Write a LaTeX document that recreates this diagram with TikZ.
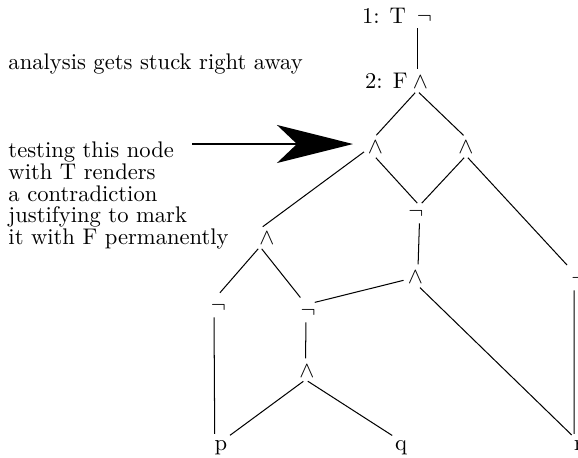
\documentclass[tikz,border=0pt]{standalone}
\usetikzlibrary{arrows.meta}
\newcommand\gly[2]{\makebox[0pt]{\hspace{#1}$#2$}}
\begin{document}
\begin{tikzpicture}[x=0.4425pt,y=-0.4425pt,
  tn/.style={anchor=base, inner xsep=0pt, inner ysep=1.2pt, outer sep=0pt},
  leaf/.style={anchor=base, inner xsep=0pt, inner ysep=1.2pt, outer sep=0pt},
  link/.style={line width=0.45pt, shorten <=1.2pt, shorten >=1.5pt},
  txt/.style={inner sep=0pt, outer sep=0pt},
  bigarrow/.style={line width=1.2pt, -{Stealth[length=33.6pt,width=16.8pt,inset=8.8pt]}}]
\useasboundingbox (0,0) rectangle (578,457);
% tree nodes
\node[tn] (n1) at (417,23) {\gly{6.6pt}{\neg}};
\node[tn] (n2) at (417,88) {\gly{3.1pt}{\wedge}};
\node[tn] (n3) at (374,153) {\gly{1.3pt}{\wedge}};
\node[tn] (n4) at (466,153) {\gly{0pt}{\wedge}};
\node[tn] (n5) at (419.5,218) {\gly{-3.1pt}{\neg}};
\node[tn] (n6) at (260,244) {\gly{6.2pt}{\wedge}};
\node[tn] (n7) at (574,285) {\gly{4.4pt}{\neg}};
\node[tn] (n8) at (418,283) {\gly{-2.2pt}{\wedge}};
\node[tn] (n9) at (214,312) {\gly{4pt}{\neg}};
\node[tn] (n10) at (306,317) {\gly{1.8pt}{\neg}};
\node[tn] (n11) at (305.5,377) {\gly{1.3pt}{\wedge}};
\node[leaf] (p) at (221,450) {p};
\node[leaf] (q) at (401,450) {q};
\node[leaf] (r) at (578.5,450) {r};
% labels
\node[txt, anchor=base east] (l1) at (406,23) {1: T};
\node[txt, anchor=base east] (l2) at (407.5,88) {2: F};
% texts
\node[txt, anchor=base west] (t1) at (8.5,69) {analysis gets stuck right away};
\node[txt, anchor=north west, align=left, font=\fontsize{10pt}{9.55pt}\selectfont] (t2) at (8.5,142.3)
  {testing this node\\with T renders\\a contradiction\\justifying to mark\\it with F permanently};
% edges
\draw[link] (n1.south) -- (n2.north);
\draw[link] (n2.south) -- (n3.north);
\draw[link] (n2.south) -- (n4.north);
\draw[link] (n3.south) -- (n5.north);
\draw[link] (n4.south) -- (n5.north);
\draw[link, shorten <=5.5pt] ([yshift=-3pt]n3.north) -- (n6.north);
\draw[link, shorten >=4.5pt] (n4.south) -- (n7.north);
\draw[link] (n5.south) -- (n8.north);
\draw[link, shorten >=4pt] (n6.south) -- (n9.north);
\draw[link, shorten >=4pt] (n6.south) -- (n10.north);
\draw[link, shorten <=6.6pt, shorten >=4pt] (n8.center) -- (n10.north);
\draw[link] (n8.south) -- (r.north west);
\draw[link] (n7.south) -- (r.north west);
\draw[link] (n9.south) -- (p.north west);
\draw[link] (n10.south) -- (n11.north);
\draw[link] (n11.south) -- (p.north east);
\draw[link] (n11.south) -- (q.north west);
% big arrow
\coordinate (astart) at (192,144);
\draw[bigarrow, shorten >=9.3pt] (astart) -- (astart -| n3);
\end{tikzpicture}
\end{document}
